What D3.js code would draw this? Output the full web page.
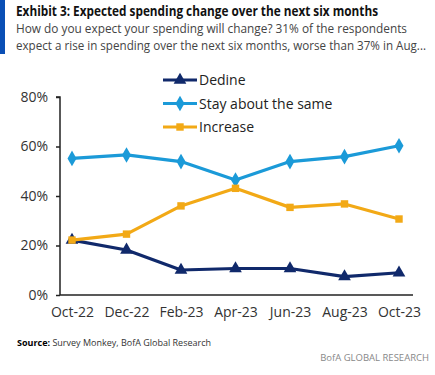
<!DOCTYPE html>
<html>
<head>
<meta charset="utf-8">
<script src="https://cdn.jsdelivr.net/npm/d3@7"></script>
<style>
  body { margin: 0; background: #fff; }
  svg { display: block; font-family: "Open Sans", sans-serif; }
</style>
</head>
<body>
<svg id="chart" width="435" height="375"></svg>
<script>
const months = ["Oct-22", "Dec-22", "Feb-23", "Apr-23", "Jun-23", "Aug-23", "Oct-23"];
const decline = [22.2, 18.2, 10.1, 10.7, 10.7, 7.4, 9.0];
const stay = [55.2, 56.6, 53.9, 46.5, 53.9, 55.9, 60.3];
const increase = [22.2, 24.6, 36.0, 43.1, 35.4, 36.8, 30.7];
const yTicks = [0, 20, 40, 60, 80];

const series = [
  { name: "Decline", label: "Dedine", values: decline, color: "#10296b", shape: d3.symbolTriangle },
  { name: "Stay about the same", label: "Stay about the same", values: stay, color: "#1b9ad8", shape: d3.symbolDiamond },
  { name: "Increase", label: "Increase", values: increase, color: "#f2a916", shape: d3.symbolSquare }
];

const svg = d3.select("#chart");

// header
svg.append("rect").attr("x", 0).attr("y", 0).attr("width", 5).attr("height", 54).attr("fill", "#0a4fb5");
svg.append("text").attr("x", 16).attr("y", 16)
  .attr("font-size", 13.5).attr("font-weight", "bold").attr("fill", "#111")
  .attr("textLength", 362).attr("lengthAdjust", "spacingAndGlyphs")
  .text("Exhibit 3: Expected spending change over the next six months");
const sub = ["How do you expect your spending will change? 31% of the respondents",
             "expect a rise in spending over the next six months, worse than 37% in Aug..."];
const subLen = [391, 410];
sub.forEach((s, i) => {
  svg.append("text").attr("x", 16).attr("y", 33 + i * 17)
    .attr("font-size", 12.5).attr("fill", "#444")
    .attr("textLength", subLen[i]).attr("lengthAdjust", "spacingAndGlyphs")
    .text(s);
});

// scales
const x = d3.scalePoint().domain(months).range([72, 399]);
const y = d3.scaleLinear().domain([0, 80]).range([295, 97]);

// axes
const yAxis = svg.append("g").attr("transform", "translate(60,0)")
  .call(d3.axisLeft(y).tickValues(yTicks).tickSize(4).tickFormat(d => d + "%"));
yAxis.select(".domain").attr("d", `M-4,${y(80)}H0V${y(0)}`).attr("stroke", "#222").attr("stroke-width", 1.5);
yAxis.selectAll(".tick line").remove();
yAxis.selectAll(".tick").append("line").attr("x1", -4).attr("x2", 0).attr("stroke", "#222").attr("stroke-width", 1.5);
yAxis.selectAll("text").attr("x", -12).attr("font-size", 14).attr("fill", "#333")
  .attr("font-family", "Open Sans, sans-serif");

const xAxis = svg.append("g").attr("transform", `translate(0,${y(0)})`)
  .call(d3.axisBottom(x).tickSize(0));
xAxis.select(".domain").attr("d", `M60,0H413`).attr("stroke", "#222").attr("stroke-width", 1.5);
xAxis.selectAll("text").attr("y", 12).attr("font-size", 14).attr("fill", "#333")
  .attr("font-family", "Open Sans, sans-serif");

// lines
const line = d3.line().x((d, i) => x(months[i])).y(d => y(d));
series.forEach(s => {
  svg.append("path").datum(s.values)
    .attr("d", line).attr("fill", "none")
    .attr("stroke", s.color).attr("stroke-width", 3.2).attr("stroke-linejoin", "round");
  svg.append("g").selectAll("path").data(s.values).join("path")
    .attr("transform", (d, i) => `translate(${x(months[i])},${y(d)})`)
    .attr("d", d3.symbol().type(s.shape).size(s.shape === d3.symbolSquare ? 55 : 70))
    .attr("fill", s.color);
});

// legend
const legend = svg.append("g");
series.forEach((s, i) => {
  const ly = 80 + i * 23.5;
  legend.append("line").attr("x1", 163).attr("x2", 197).attr("y1", ly).attr("y2", ly)
    .attr("stroke", s.color).attr("stroke-width", 3.2);
  legend.append("path").attr("transform", `translate(180,${ly})`)
    .attr("d", d3.symbol().type(s.shape).size(s.shape === d3.symbolSquare ? 55 : 70))
    .attr("fill", s.color);
  legend.append("text").attr("x", 199).attr("y", ly + 5)
    .attr("font-size", 14).attr("fill", "#222").text(s.label);
});

// footer
const src = svg.append("text").attr("x", 17).attr("y", 346).attr("font-size", 9.5).attr("fill", "#333")
  .attr("textLength", 194).attr("lengthAdjust", "spacingAndGlyphs");
src.append("tspan").attr("font-weight", "bold").attr("fill", "#000").text("Source:");
src.append("tspan").text("  Survey Monkey, BofA Global Research");
svg.append("text").attr("x", 429).attr("y", 361).attr("text-anchor", "end")
  .attr("font-size", 9.5).attr("fill", "#888").text("BofA GLOBAL RESEARCH");
</script>
</body>
</html>
